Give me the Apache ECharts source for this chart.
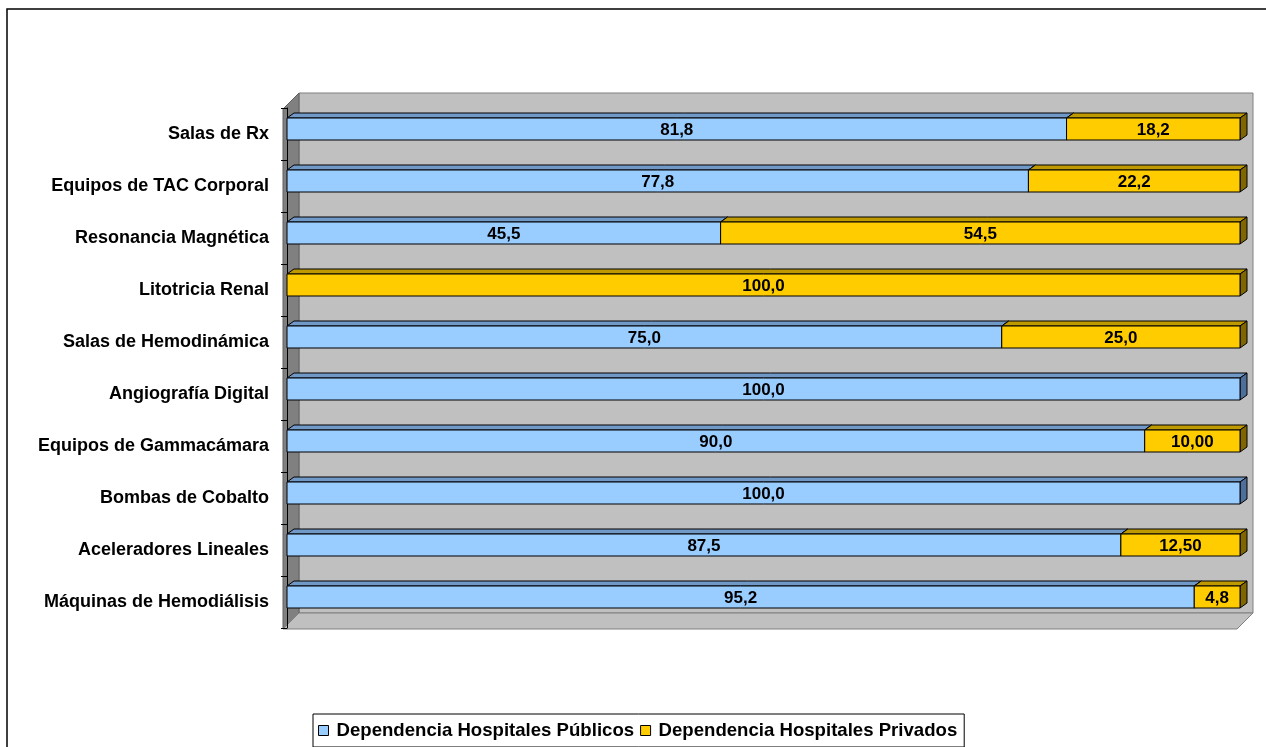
<!DOCTYPE html>
<html>
<head>
<meta charset="utf-8">
<script src="https://cdn.jsdelivr.net/npm/echarts@6/dist/echarts.min.js"></script>
<style>html,body{margin:0;padding:0;background:#fff;}#c{width:1266px;height:747px;}</style>
</head>
<body>
<div id="c"></div>
<script>
const categories = ['Salas de Rx','Equipos de TAC Corporal','Resonancia Magnética','Litotricia Renal','Salas de Hemodinámica','Angiografía Digital','Equipos de Gammacámara','Bombas de Cobalto','Aceleradores Lineales','Máquinas de Hemodiálisis'];
const publicos = [81.8, 77.8, 45.5, 0, 75.0, 100, 90.0, 100, 87.5, 95.2];
const privados = [18.2, 22.2, 54.5, 100, 25.0, 0, 10.0, 0, 12.5, 4.8];
const publicosLabels = ['81,8','77,8','45,5','','75,0','100,0','90,0','100,0','87,5','95,2'];
const privadosLabels = ['18,2','22,2','54,5','100,0','25,0','','10,00','','12,50','4,8'];
const seriesNames = ['Dependencia Hospitales Públicos','Dependencia Hospitales Privados'];

const FONT = '"Liberation Sans", Arial, sans-serif';
const colors = [
  {front:'#99ccff', top:'#7099c8', side:'#4d6f99'},
  {front:'#ffcc00', top:'#bf9900', side:'#806600'}
];

function makeRender(si, labels) {
  return function (params, api) {
    const cat = api.value(0), s = api.value(1), e = api.value(2);
    if (e - s <= 0) return null;
    const p0 = api.coord([s, cat]);
    const p1 = api.coord([e, cat]);
    const yc = p0[1];
    const top = yc - 16, bot = yc + 6;
    const x0 = p0[0], x1 = p1[0];
    const dx = 7, dy = 5;
    const c = colors[si];
    const ln = {stroke:'#000', lineWidth:1};
    return {
      type:'group',
      children:[
        {type:'polygon', shape:{points:[[x0,top],[x0+dx,top-dy],[x1+dx,top-dy],[x1,top]]}, style:Object.assign({fill:c.top}, ln)},
        {type:'polygon', shape:{points:[[x1,top],[x1+dx,top-dy],[x1+dx,bot-dy],[x1,bot]]}, style:Object.assign({fill:c.side}, ln)},
        {type:'rect', shape:{x:x0, y:top, width:x1-x0, height:bot-top}, style:Object.assign({fill:c.front}, ln)},
        {type:'text', style:{text:labels[params.dataIndex], x:(x0+x1)/2, y:(top+bot)/2+1, align:'center', verticalAlign:'middle', fill:'#000', font:'bold 17px ' + FONT}}
      ]
    };
  };
}

const pubData = categories.map((c, i) => [i, 0, publicos[i]]);
const privData = categories.map((c, i) => [i, publicos[i], publicos[i] + privados[i]]);

const chart = echarts.init(document.getElementById('c'), null, {renderer:'canvas'});
chart.setOption({
  animation:false,
  backgroundColor:'#fff',
  graphic:[
    {type:'polyline', z:0, shape:{points:[[7,760],[7,9],[1280,9]]}, style:{stroke:'#000', lineWidth:1.5, fill:null}},
    {type:'rect', z:0, shape:{x:299, y:93, width:954, height:520}, style:{fill:'#c0c0c0', stroke:'#808080', lineWidth:1}},
    {type:'polygon', z:0, shape:{points:[[283,109],[299,93],[299,613],[283,629]]}, style:{fill:'#808080', stroke:'#606060', lineWidth:1}},
    {type:'polygon', z:0, shape:{points:[[283,629],[299,613],[1253,613],[1237,629]]}, style:{fill:'#c0c0c0', stroke:'#808080', lineWidth:1}}
  ],
  grid:{left:287, top:108, width:953, height:520, containLabel:false},
  xAxis:{type:'value', min:0, max:100, show:false},
  yAxis:{
    type:'category', data:categories, inverse:true, offset:4,
    axisLine:{show:true, lineStyle:{color:'#000', width:1}},
    axisTick:{show:true, length:6, lineStyle:{color:'#000'}},
    axisLabel:{margin:14, color:'#000', fontWeight:'bold', fontSize:18, fontFamily:FONT},
    splitLine:{show:false}
  },
  legend:{
    left:313, top:714, orient:'horizontal',
    borderColor:'#000', borderWidth:1, padding:[7,7,7,5],
    itemWidth:10, itemHeight:10, itemGap:6,
    textStyle:{color:'#000', fontWeight:'bold', fontSize:18.6, fontFamily:FONT, padding:[0,0,0,3]},
    data:[
      {name:seriesNames[0], icon:'rect', itemStyle:{color:colors[0].front, borderColor:'#000', borderWidth:1}},
      {name:seriesNames[1], icon:'rect', itemStyle:{color:colors[1].front, borderColor:'#000', borderWidth:1}}
    ]
  },
  series:[
    {name:seriesNames[0], type:'custom', renderItem:makeRender(0, publicosLabels), data:pubData, encode:{x:[1,2], y:0}, itemStyle:{color:colors[0].front}, z:3},
    {name:seriesNames[1], type:'custom', renderItem:makeRender(1, privadosLabels), data:privData, encode:{x:[1,2], y:0}, itemStyle:{color:colors[1].front}, z:4}
  ]
});
</script>
</body>
</html>
